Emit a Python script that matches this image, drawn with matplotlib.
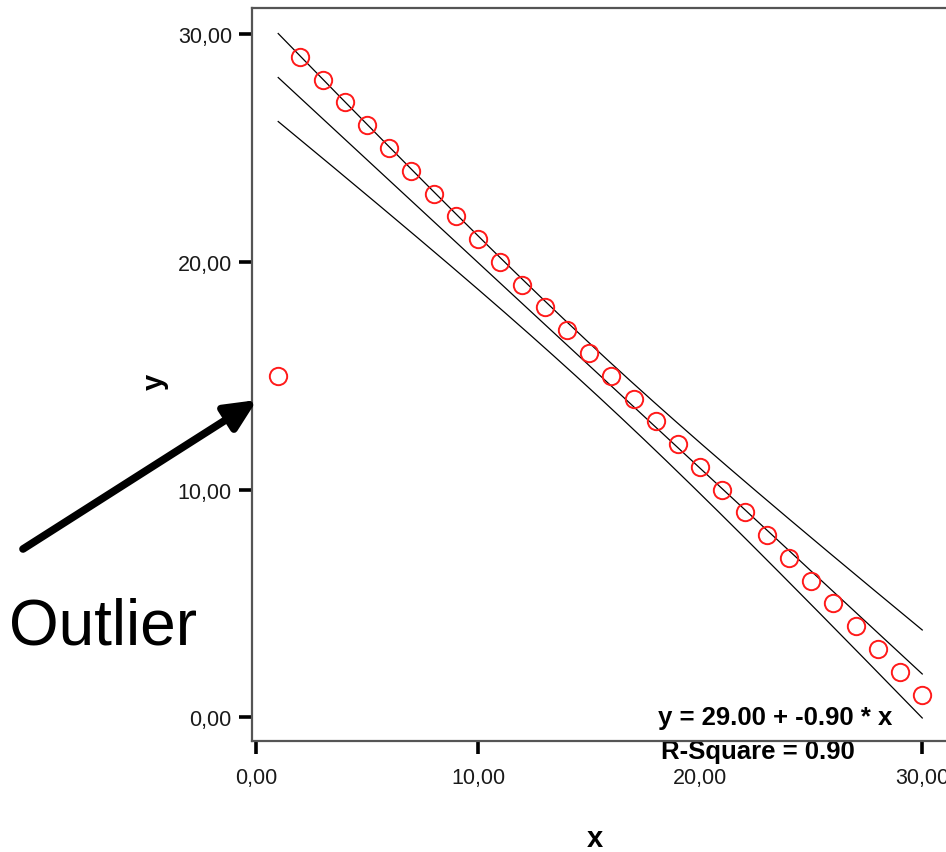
import numpy as np
import matplotlib
matplotlib.use("Agg")
import matplotlib.pyplot as plt
from matplotlib.transforms import Bbox, TransformedBbox

# data
x = [1, 2, 3, 4, 5, 6, 7, 8, 9, 10, 11, 12, 13, 14, 15,
     16, 17, 18, 19, 20, 21, 22, 23, 24, 25, 26, 27, 28, 29, 30]
y = [15, 29, 28, 27, 26, 25, 24, 23, 22, 21, 20, 19, 18, 17, 16,
     15, 14, 13, 12, 11, 10, 9, 8, 7, 6, 5, 4, 3, 2, 1]
xticks = [0, 10, 20, 30]
xtick_labels = ["0,00", "10,00", "20,00", "30,00"]
yticks = [0, 10, 20, 30]
ytick_labels = ["0,00", "10,00", "20,00", "30,00"]
eq_text = "y = 29.00 + -0.90 * x"
r2_text = "R-Square = 0.90"
t_crit = 2.048  # t(0.975, df=28)

# linear fit + 95% CI of the mean
xa = np.array(x, float)
ya = np.array(y, float)
n = len(xa)
b, a = np.polyfit(xa, ya, 1)
resid = ya - (a + b * xa)
s = np.sqrt(np.sum(resid**2) / (n - 2))
sxx = np.sum((xa - xa.mean())**2)
xf = np.linspace(xa.min(), xa.max(), 200)
yf = a + b * xf
half = t_crit * s * np.sqrt(1 / n + (xf - xa.mean())**2 / sxx)

W, H = 946, 853
fig = plt.figure(figsize=(W / 100, H / 100), dpi=100)
# axes frame runs off the right edge like in the original
ax = fig.add_axes([252 / W, (H - 742) / H, 708 / W, (742 - 9) / H])
ax.set_xlim(-0.18, 31.7)
ax.set_ylim(-1.04, 31.15)

ax.plot(xf, yf, color="black", lw=0.9)
ax.plot(xf, yf + half, color="black", lw=0.9)
ax.plot(xf, yf - half, color="black", lw=0.9)
ax.plot(x, y, "o", mfc="none", mec="#ff1a1a", ms=12.5, mew=1.4, ls="none")

for sp in ax.spines.values():
    sp.set_color("#555555")
    sp.set_linewidth(1.6)

ax.set_xticks(xticks)
ax.set_xticklabels(xtick_labels)
ax.set_yticks(yticks)
ax.set_yticklabels(ytick_labels)
ax.tick_params(axis="both", direction="out", length=9.5, width=2.6,
               color="black", labelsize=15.5)
ax.tick_params(axis="x", pad=9)
ax.tick_params(axis="y", pad=5)
for lab in ax.get_xticklabels() + ax.get_yticklabels():
    lab.set_family("Liberation Sans")
    lab.set_color("#1a1a1a")

ax.set_xlabel("x", fontsize=21, fontweight="bold", family="Liberation Sans")
ax.xaxis.set_label_coords((595 - 252) / 708, (742 - 839) / 733)
ax.xaxis.label.set_va("center")
ax.set_ylabel("y", fontsize=21, fontweight="bold", family="Liberation Sans")
ax.yaxis.set_label_coords((155 - 252) / 708, (742 - 382) / 733)
ax.yaxis.label.set_va("center")

ax.text((658 - 252) / 708, (742 - 725) / 733, eq_text, transform=ax.transAxes,
        fontsize=18.5, fontweight="bold", family="Liberation Sans",
        ha="left", va="baseline")

# second line sits just under the frame: covers the 20 tick, top cut by the frame
r2 = ax.text((661 - 252) / 708, (742 - 759) / 733, r2_text, transform=ax.transAxes,
             fontsize=18.5, fontweight="bold", family="Liberation Sans",
             ha="left", va="baseline", zorder=2,
             bbox=dict(fc="white", ec="none", pad=1))
r2.set_clip_path(None)
r2.set_clip_on(True)
r2.set_clip_box(TransformedBbox(Bbox.from_extents(0, 0, 1, (H - 742) / H),
                                fig.transFigure))

# outlier annotation
ax.annotate("", xy=(257, H - 401), xycoords="figure pixels",
            xytext=(23, H - 550), textcoords="figure pixels",
            arrowprops=dict(arrowstyle="-|>,head_length=0.75,head_width=0.35",
                            mutation_scale=25, lw=5.5, color="black",
                            shrinkA=0, shrinkB=0),
            annotation_clip=False)
fig.text(9 / W, (H - 645) / H, "Outlier", fontsize=46,
         family="Liberation Sans", ha="left", va="baseline")

fig.savefig("out.png", dpi=100)
